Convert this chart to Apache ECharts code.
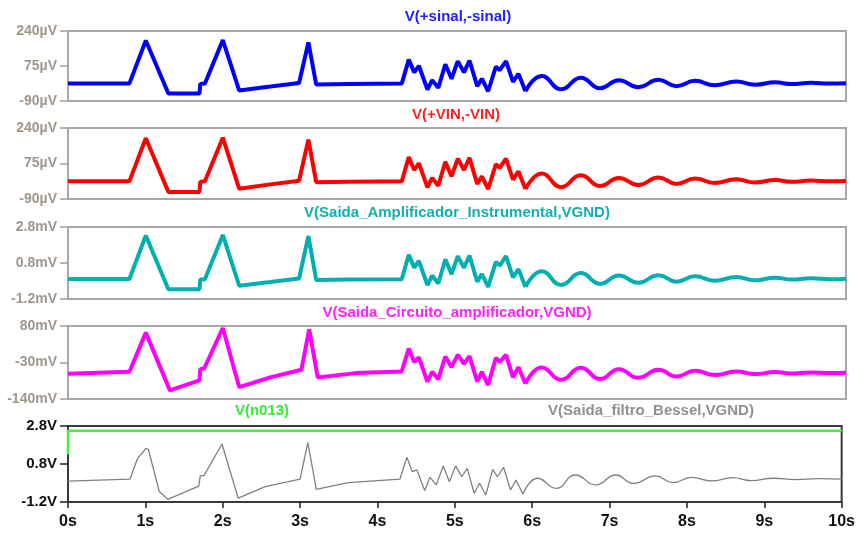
<!DOCTYPE html>
<html><head><meta charset="utf-8">
<script src="https://cdn.jsdelivr.net/npm/echarts@6/dist/echarts.min.js"></script>
<style>html,body{margin:0;padding:0;background:#fff}#c{width:858px;height:533px}</style>
</head><body><div id="c"></div>
<script>
// ---- data (time in s) ----
const xTicks = [0,1,2,3,4,5,6,7,8,9,10];

// Pane 1: V(+sinal,-sinal) in µV
const sinalT1 = [0,0.79,1.0,1.29,1.69,1.70,1.76,1.99,2.2,2.6,2.97,3.09,3.19,3.6,4.29,4.38,4.45,4.51,4.62,4.68,4.76,4.85,4.93,5.01,5.09,5.16,5.26,5.32,5.40,5.50,5.55,5.63,5.72,5.79,5.88];
const sinalV1 = [-7,-7,195,-55,-55,-10,-8,197,-40,-22,-5,186,-12,-10,-8,105,45,76,-36,8,-28,83,15,98,45,101,-20,15,-44,72,55,98,0,38,-44];
const sinalT2 = [5.88,6.09,6.34,6.59,6.84,7.08,7.33,7.59,7.82,8.06,8.31,8.59,8.83,9.09,9.3,9.55,9.8,10];
const sinalV2 = [-44,28,-35,20,-30,8,-25,10,-20,5,-16,2,-13,-2,-10,-4,-8,-6];

// Pane 2: V(+VIN,-VIN) in µV
const vinT1 = [0,0.79,1.0,1.29,1.69,1.70,1.76,1.99,2.2,2.6,2.97,3.09,3.19,3.6,4.29,4.38,4.45,4.51,4.62,4.68,4.76,4.85,4.93,5.01,5.09,5.16,5.26,5.32,5.40,5.50,5.55,5.63,5.72,5.79,5.88];
const vinV1 = [-7,-7,192,-57,-57,-10,-8,195,-42,-22,-5,186,-12,-10,-8,105,45,76,-36,8,-28,83,15,98,45,101,-20,15,-44,72,55,98,0,38,-44];
const vinT2 = [5.88,6.09,6.34,6.59,6.84,7.08,7.33,7.59,7.82,8.06,8.31,8.59,8.83,9.09,9.3,9.55,9.8,10];
const vinV2 = [-44,28,-35,20,-30,8,-25,10,-20,5,-16,2,-13,-2,-10,-4,-8,-6];

// Pane 3: V(Saida_Amplificador_Instrumental,VGND) in mV
const ampT1 = [0,0.79,1.0,1.29,1.69,1.70,1.76,1.99,2.2,2.6,2.97,3.09,3.19,3.6,4.29,4.38,4.45,4.51,4.62,4.68,4.76,4.85,4.93,5.01,5.09,5.16,5.26,5.32,5.40,5.50,5.55,5.63,5.72,5.79,5.88];
const ampV1 = [-0.09,-0.09,2.33,-0.66,-0.66,-0.12,-0.1,2.36,-0.46,-0.26,-0.06,2.3,-0.14,-0.12,-0.1,1.26,0.54,0.91,-0.43,0.1,-0.34,1.0,0.18,1.18,0.54,1.21,-0.24,0.18,-0.53,0.86,0.66,1.18,0.0,0.46,-0.53];
const ampT2 = [5.88,6.09,6.34,6.59,6.84,7.08,7.33,7.59,7.82,8.06,8.31,8.59,8.83,9.09,9.3,9.55,9.8,10];
const ampV2 = [-0.53,0.34,-0.42,0.24,-0.36,0.1,-0.3,0.12,-0.24,0.06,-0.19,0.02,-0.16,-0.02,-0.12,-0.05,-0.1,-0.07];

// Pane 4: V(Saida_Circuito_amplificador,VGND) in mV
const circT1 = [0,0.79,1.0,1.31,1.69,1.70,1.75,1.99,2.2,2.6,3.0,3.1,3.21,3.7,4.29,4.38,4.45,4.51,4.62,4.68,4.76,4.85,4.93,5.01,5.09,5.16,5.26,5.32,5.40,5.50,5.55,5.63,5.72,5.79,5.88];
const circV1 = [-64,-58,60,-114,-84,-50,-48,74,-104,-75,-52,70,-75,-62,-57,12,-29,-15,-88,-58,-80,-12,-44,-7,-34,-11,-88,-58,-98,-16,-29,-7,-75,-44,-94];
const circT2 = [5.88,6.09,6.34,6.59,6.84,7.08,7.33,7.59,7.82,8.06,8.31,8.59,8.83,9.09,9.3,9.55,9.8,10];
const circV2 = [-94,-45,-82,-46,-80,-50,-76,-52,-72,-55,-68,-57,-65,-59,-63,-60,-62,-61];

// Pane 5: V(Saida_filtro_Bessel,VGND) in V
const besT1 = [0,0.8,0.9,1.01,1.04,1.18,1.29,1.69,1.71,1.76,1.99,2.2,2.55,3.0,3.1,3.21,3.62,4.29,4.38,4.45,4.51,4.61,4.68,4.76,4.85,4.93,5.01,5.09,5.16,5.25,5.32,5.40,5.49,5.55,5.63,5.72,5.79,5.88];
const besV1 = [-0.1,0.0,1.1,1.63,1.55,-0.65,-1.06,-0.36,0.17,0.2,1.85,-1.0,-0.39,0.0,1.92,-0.53,-0.18,0.0,1.15,0.4,0.49,-0.6,0.1,-0.3,0.7,-0.13,0.7,0.13,0.57,-0.74,-0.21,-0.83,0.52,0.13,0.63,-0.57,-0.04,-0.78];
const besT2 = [5.88,6.07,6.31,6.56,6.82,7.08,7.31,7.59,7.82,8.06,8.32,8.59,8.83,9.12,9.4,9.7,10];
const besV2 = [-0.78,0.05,-0.48,0.22,-0.3,0.22,-0.22,0.17,-0.18,0.1,-0.09,0.08,-0.08,0.05,-0.02,0.03,0.0];

// Pane 5: V(n013) in V
const n013T = [0,0,10];
const n013V = [1.3,2.55,2.55];

// y-axis tick ranges [min, max, interval]
const yRanges = [[-90,240,165],[-90,240,165],[-1.2,2.8,2],[-140,80,110],[-1.2,2.8,2]];
const yUnits = ['µV','µV','mV','mV','V'];
const titles = ['V(+sinal,-sinal)','V(+VIN,-VIN)','V(Saida_Amplificador_Instrumental,VGND)','V(Saida_Circuito_amplificador,VGND)'];

// ---- chart ----
const FONT = '"Liberation Sans Narrow","Arial Narrow","Liberation Sans",Arial,sans-serif';
const zip = (t,v)=>t.map((x,i)=>[x,v[i]]);
const grids = [
  {left:68,right:12,top:31,height:70},
  {left:68,right:12,top:128,height:71},
  {left:68,right:12,top:227,height:72},
  {left:68,right:12,top:326,height:73},
  {left:68,right:12,top:426,height:76}
];
const fmt = (i)=>(v)=>{
  const u=yUnits[i];
  if(u==='µV'||i===3) return Math.round(v)+u;
  return (Math.round(v*10)/10).toFixed(1)+u;
};
const gridOpts = grids.map((g,i)=>Object.assign({},g,{show:true,borderColor:i===4?'#3a3a3a':'#a8a8a8',borderWidth:2,backgroundColor:'transparent'}));
const xAxes = grids.map((g,i)=>({
  type:'value',gridIndex:i,min:0,max:10,interval:1,position:'bottom',
  axisLine:{show:false,onZero:false},splitLine:{show:false},
  axisTick:{show:i===4,length:6,lineStyle:{color:'#222',width:1.5}},
  axisLabel:{show:i===4,formatter:(v)=>v+'s',color:'#111',fontFamily:FONT,fontWeight:'bold',fontSize:16,margin:12}
}));
const yAxes = grids.map((g,i)=>({
  type:'value',gridIndex:i,min:yRanges[i][0],max:yRanges[i][1],interval:yRanges[i][2],
  axisLine:{show:false,onZero:false},splitLine:{show:false},
  axisTick:{show:true,length:8,lineStyle:{color:i===4?'#222':'#a0a0a0',width:1.5}},
  axisLabel:{formatter:fmt(i),color:i===4?'#111':'#a0968c',fontFamily:FONT,fontWeight:'bold',fontSize:i===4?15:14,margin:11}
}));
function ser(i,data,color,w,smooth){
  return {type:'line',xAxisIndex:i,yAxisIndex:i,data:data,showSymbol:false,symbol:'none',smooth:smooth?0.5:false,
    lineStyle:{color:color,width:w},animation:false,silent:true,z:3};
}
const series = [
  ser(0,zip(sinalT1,sinalV1),'#0000ff',4,false),ser(0,zip(sinalT2,sinalV2),'#0000ff',4,true),
  ser(1,zip(vinT1,vinV1),'#ff0000',4,false),ser(1,zip(vinT2,vinV2),'#ff0000',4,true),
  ser(2,zip(ampT1,ampV1),'#00b0b0',4,false),ser(2,zip(ampT2,ampV2),'#00b0b0',4,true),
  ser(3,zip(circT1,circV1),'#ff00ff',4,false),ser(3,zip(circT2,circV2),'#ff00ff',4,true),
  ser(4,zip(n013T,n013V),'#44ee44',2.5,false),
  ser(4,zip(besT1,besV1),'#808080',1.3,false),ser(4,zip(besT2,besV2),'#808080',1.3,true)
];
const titleStyle=(txt,x,y,col)=>({type:'text',x:x,y:y,style:{text:txt,fill:col,font:'bold 15px '+FONT,textAlign:'center',textVerticalAlign:'middle'}});
const graphic=[
  titleStyle(titles[0],458,17,'#2020ff'),
  titleStyle(titles[1],456,115,'#ff2020'),
  titleStyle(titles[2],457,213,'#10b0b0'),
  titleStyle(titles[3],457,313,'#ff20ff'),
  titleStyle('V(n013)',262,411,'#33ee33'),
  titleStyle('V(Saida_filtro_Bessel,VGND)',651,411,'#909090')
];
const chart = echarts.init(document.getElementById('c'),null,{renderer:'canvas'});
chart.setOption({animation:false,grid:gridOpts,xAxis:xAxes,yAxis:yAxes,series:series,graphic:graphic});
</script></body></html>
